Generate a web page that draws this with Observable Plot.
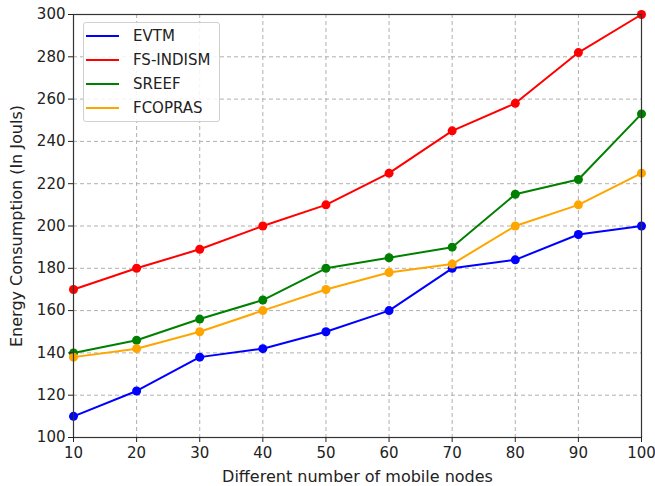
<!DOCTYPE html>
<html><head><meta charset="utf-8">
<script src="https://cdn.jsdelivr.net/npm/d3@7"></script>
<script src="https://cdn.jsdelivr.net/npm/@observablehq/plot@0.6"></script>
<style>
body{margin:0;background:#fff;font-family:"DejaVu Sans",sans-serif;}
#wrap{position:relative;width:655px;height:486px;}
#legend{position:absolute;left:83px;top:22px;width:137px;height:100px;box-sizing:border-box;border:1px solid #d0d0d0;border-radius:3px;background:rgba(255,255,255,0.85);font-size:15px;color:#222;padding:1px 0 0 2px;}
#legend .row{display:flex;align-items:center;height:24px;}
#legend .sw{width:33px;height:2px;margin-right:14px;}
</style></head>
<body><div id="wrap"><div id="chart"></div><div id="legend"></div></div>
<script>
const nodes = [10, 20, 30, 40, 50, 60, 70, 80, 90, 100];
const seriesNames = ["EVTM", "FS-INDISM", "SREEF", "FCOPRAS"];
const seriesColors = ["#0000ff", "#ff0000", "#008000", "#ffa500"];
const evtm = [110, 122, 138, 142, 150, 160, 180, 184, 196, 200];
const fsindism = [170, 180, 189, 200, 210, 225, 245, 258, 282, 300];
const sreef = [140, 146, 156, 165, 180, 185, 190, 215, 222, 253];
const fcopras = [138, 142, 150, 160, 170, 178, 182, 200, 210, 225];
const yTicks = [100, 120, 140, 160, 180, 200, 220, 240, 260, 280, 300];

const values = [evtm, fsindism, sreef, fcopras];
const data = [];
seriesNames.forEach((s, i) => nodes.forEach((n, j) => data.push({series: s, x: n, y: values[i][j]})));

const chart = Plot.plot({
  width: 655, height: 486,
  marginLeft: 73, marginRight: 14, marginTop: 14, marginBottom: 49,
  style: {fontFamily: "DejaVu Sans, sans-serif", fontSize: "15px", color: "#222", background: "#fff"},
  x: {domain: [10, 100], ticks: nodes, tickSize: 5, tickPadding: 4, label: null},
  y: {domain: [100, 300], ticks: yTicks, tickSize: 5, tickPadding: 3, label: null},
  color: {domain: seriesNames, range: seriesColors},
  marks: [
    Plot.gridX(nodes, {stroke: "#b0b0b0", strokeOpacity: 1, strokeDasharray: "4,3", strokeWidth: 1}),
    Plot.gridY(yTicks, {stroke: "#b0b0b0", strokeOpacity: 1, strokeDasharray: "4,3", strokeWidth: 1}),
    Plot.line(data, {x: "x", y: "y", z: "series", stroke: "series", strokeWidth: 2}),
    Plot.dot(data, {x: "x", y: "y", fill: "series", r: 4.5}),
    Plot.frame({stroke: "#333", strokeWidth: 1.2}),
    Plot.axisX({ticks: nodes, tickSize: 5, tickPadding: 5, fontSize: 15}),
    Plot.axisY({ticks: yTicks, tickSize: 5, tickPadding: 3, fontSize: 15}),
    Plot.text(["Different number of mobile nodes"], {frameAnchor: "bottom", dy: 44, fontSize: 16, fill: "#222"}),
    Plot.text(["Energy Consumption (In Jouls)"], {frameAnchor: "left", textAnchor: "middle", dx: -57, rotate: -90, fontSize: 16, fill: "#222"})
  ]
});
document.getElementById("chart").appendChild(chart);

const lg = document.getElementById("legend");
seriesNames.forEach((s, i) => {
  const r = document.createElement("div"); r.className = "row";
  const sw = document.createElement("span"); sw.className = "sw"; sw.style.background = seriesColors[i];
  const t = document.createElement("span"); t.textContent = s;
  r.appendChild(sw); r.appendChild(t); lg.appendChild(r);
});
</script></body></html>
